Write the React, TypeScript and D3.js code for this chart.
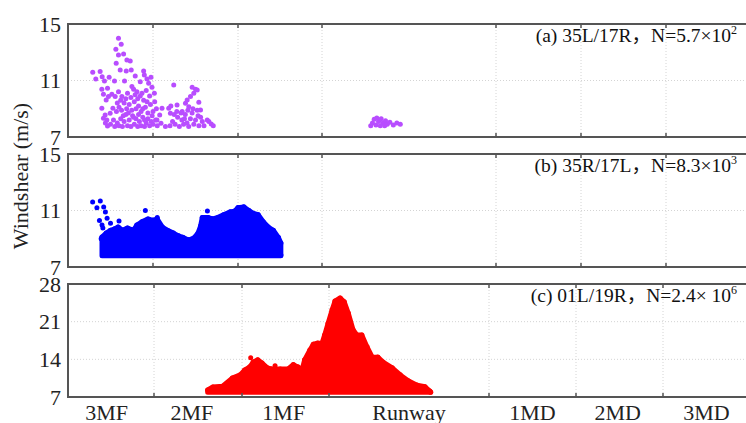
import React from "react";
import * as d3 from "d3";

const W = 746;
const H = 423;

// x domain = segment boundaries: 3MF | 2MF | 1MF | Runway | 1MD | 2MD | 3MD
const xBreaks = [0, 1, 2, 3, 5, 6, 7, 8];
const xLabels = ["3MF", "2MF", "1MF", "Runway", "1MD", "2MD", "3MD"];
const xLabelAt = [0.45, 1.43, 2.48, 4, 5.5, 6.48, 7.5];

const yTicksAB = [7, 11, 15];
const yTicksC = [7, 14, 21, 28];

// (a) 35L/17R scattered points [x, windshear]
const ptsA: [number, number][] = [
  [0.594, 13.99], [0.626, 13.56], [0.563, 13.21], [0.594, 12.81], [0.654, 12.88],
  [0.693, 12.45], [0.732, 12.38], [0.567, 12.22], [0.614, 11.75], [0.685, 11.67],
  [0.744, 11.75], [0.291, 11.58], [0.378, 11.63], [0.327, 11.11], [0.402, 11.27],
  [0.429, 10.97], [0.484, 11.23], [0.547, 10.97], [0.665, 10.97], [0.791, 11.32],
  [0.89, 11.67], [0.898, 11.39], [0.929, 11.11], [0.976, 11.23], [0.85, 10.92],
  [0.398, 10.38], [0.465, 10.45], [0.417, 10.02], [0.516, 10.02], [0.449, 9.62],
  [0.476, 9.86], [0.555, 9.86], [0.594, 10.21], [0.634, 9.86], [0.752, 10.57],
  [0.772, 10.38], [0.811, 10.21], [0.949, 10.8], [0.988, 10.52], [1.016, 10.09],
  [0.398, 9.03], [0.437, 8.56], [0.457, 8.21], [0.465, 7.78], [0.417, 8.33],
  [0.496, 8.68], [0.528, 9.03], [0.535, 8.21], [0.5, 7.9], [0.44, 8.0],
  [0.55, 7.75], [0.58, 8.0], [0.6, 7.8], [0.62, 8.3], [0.64, 7.75], [0.66, 8.1],
  [0.68, 8.6], [0.7, 7.8], [0.72, 8.2], [0.74, 7.75], [0.76, 8.5], [0.78, 7.9],
  [0.8, 8.3], [0.82, 7.75], [0.84, 8.1], [0.86, 7.8], [0.88, 8.4], [0.9, 7.75],
  [0.92, 8.0], [0.94, 8.3], [0.96, 7.8], [0.98, 8.1], [1.0, 7.9], [1.03, 8.2],
  [1.05, 7.8], [0.57, 8.8], [0.6, 9.1], [0.63, 8.9], [0.66, 9.4], [0.69, 9.0],
  [0.72, 9.3], [0.75, 8.9], [0.78, 9.5], [0.8, 9.0], [0.83, 9.2], [0.86, 8.8],
  [0.89, 9.6], [0.91, 9.1], [0.94, 8.7], [0.97, 9.3], [1.0, 8.8], [1.02, 9.5],
  [0.65, 8.5], [0.71, 8.7], [0.77, 8.4], [0.83, 8.6], [0.88, 9.0], [0.93, 9.5],
  [0.96, 9.9], [0.99, 8.5], [1.04, 9.0], [0.68, 9.7], [0.74, 9.8], [0.82, 9.7],
  [0.87, 10.1], [0.92, 10.3], [0.85, 9.9], [0.9, 8.2], [0.62, 9.6], [0.58, 9.4],
  [0.7, 10.1], [0.79, 10.0], [1.106, 9.03], [1.079, 8.56], [1.047, 8.21],
  [1.146, 7.74], [1.094, 7.97], [1.185, 9.03], [1.205, 8.68], [1.244, 10.68],
  [1.283, 9.27], [1.343, 8.8], [1.382, 9.39], [1.402, 9.62], [1.461, 10.52],
  [1.5, 10.38], [1.48, 10.09], [1.52, 10.33], [1.539, 9.46], [1.441, 9.86],
  [1.421, 9.15], [1.559, 8.92], [1.657, 8.09], [1.685, 7.92], [1.709, 7.8],
  [1.638, 8.2], [1.2, 7.8], [1.23, 8.1], [1.26, 7.9], [1.29, 8.4], [1.31, 7.75],
  [1.34, 8.2], [1.36, 7.9], [1.38, 8.6], [1.4, 8.0], [1.42, 7.75], [1.44, 8.3],
  [1.46, 8.7], [1.48, 7.9], [1.5, 8.2], [1.52, 8.9], [1.54, 7.8], [1.56, 8.4],
  [1.58, 8.1], [1.6, 7.8], [1.25, 8.6], [1.33, 8.7], [1.47, 9.0], [1.53, 8.5],
  [1.41, 8.9], [1.37, 8.3], [1.21, 9.2], [1.28, 8.8],
  [3.56, 7.8], [3.58, 8.0], [3.6, 8.25], [3.62, 7.85], [3.63, 8.35], [3.65, 8.1],
  [3.67, 7.8], [3.68, 8.3], [3.7, 8.0], [3.72, 7.8], [3.73, 8.15], [3.75, 7.9],
  [3.78, 8.05], [3.82, 7.85], [3.86, 8.0], [3.9, 7.9],
];

// (b) 35R/17L dense cloud upper envelope + isolated points
const envB: [number, number][] = [
  [0.4, 9.12], [0.45, 9.4], [0.5, 9.6], [0.55, 9.7], [0.59, 9.83], [0.64, 9.6],
  [0.7, 9.76], [0.77, 9.6], [0.81, 9.97], [0.87, 10.2], [0.94, 10.4], [1.0, 10.3],
  [1.05, 10.4], [1.11, 9.83], [1.17, 9.6], [1.24, 9.4], [1.3, 9.2], [1.35, 9.1],
  [1.42, 8.9], [1.48, 9.05], [1.53, 9.4], [1.56, 9.9], [1.58, 10.5], [1.65, 10.5],
  [1.7, 10.4], [1.76, 10.5], [1.83, 10.7], [1.91, 10.9], [1.96, 10.95], [2.0, 11.2],
  [2.07, 11.25], [2.13, 11.0], [2.18, 10.8], [2.24, 10.7], [2.3, 10.2], [2.36, 9.83],
  [2.42, 9.6], [2.48, 9.1], [2.51, 8.7], [2.51, 7.85],
];
const ptsB: [number, number][] = [
  [0.29, 11.6], [0.38, 11.67], [0.34, 11.2], [0.42, 11.25], [0.44, 10.9],
  [0.37, 10.3], [0.46, 10.45], [0.4, 9.97], [0.41, 9.76], [0.5, 10.1],
  [0.6, 10.25], [0.91, 11.0], [1.05, 10.5], [1.64, 10.97], [0.39, 9.0],
  [0.42, 8.7], [0.44, 8.4], [0.45, 8.1],
];
const baseB = 7.8;

// (c) 01L/19R dense cloud upper envelope + isolated points
const envC: [number, number][] = [
  [1.61, 8.3], [1.67, 8.86], [1.78, 9.0], [1.89, 10.5], [1.98, 11.1], [2.03, 12.0],
  [2.09, 12.6], [2.13, 13.5], [2.18, 13.9], [2.23, 13.3], [2.29, 12.4], [2.34, 12.2],
  [2.44, 12.2], [2.53, 12.2], [2.59, 13.0], [2.64, 12.6], [2.69, 12.0], [2.72, 13.9],
  [2.78, 15.7], [2.82, 16.8], [2.87, 17.0], [2.92, 17.0], [2.95, 18.5], [2.99, 20.7],
  [3.04, 23.2], [3.075, 24.8], [3.14, 25.4], [3.19, 24.7], [3.24, 22.6], [3.3, 19.5],
  [3.35, 18.5], [3.41, 18.5], [3.475, 16.3], [3.54, 14.4], [3.61, 14.4], [3.675, 13.5],
  [3.79, 12.4], [3.89, 11.1], [3.99, 10.0], [4.1, 9.2], [4.2, 8.9], [4.26, 8.1],
  [4.27, 7.9],
];
const ptsC: [number, number][] = [[2.1, 14.3], [2.38, 12.8]];
const baseC = 7.9;

const panels = [
  {
    id: "a", top: 24, bottom: 137, xr: [68, 153, 238, 322, 496, 581, 666, 751],
    ydom: [7, 15], yTicks: yTicksAB, color: "#b84dff",
    label: ["(a) 35L/17R", "N=5.7×10"], sup: "2",
    pts: ptsA, env: null as [number, number][] | null, base: 0,
  },
  {
    id: "b", top: 154, bottom: 267, xr: [68, 153, 238, 322, 496, 581, 666, 751],
    ydom: [7, 15], yTicks: yTicksAB, color: "#0000ff",
    label: ["(b) 35R/17L", "N=8.3×10"], sup: "3",
    pts: ptsB, env: envB, base: baseB,
  },
  {
    id: "c", top: 284, bottom: 397, xr: [68, 154, 242, 329, 489, 576, 663, 750],
    ydom: [7, 28], yTicks: yTicksC, color: "#ff0000",
    label: ["(c) 01L/19R", "N=2.4× 10"], sup: "6",
    pts: ptsC, env: envC, base: baseC,
  },
];

const font = "'Liberation Serif', 'Times New Roman', serif";
const frame = "#555";

const Panel = ({ p, showX }: { p: (typeof panels)[number]; showX: boolean }) => {
  const x = d3.scaleLinear().domain(xBreaks).range(p.xr);
  const y = d3.scaleLinear().domain(p.ydom).range([p.bottom, p.top]);
  const left = p.xr[0];
  const right = p.xr[p.xr.length - 1];
  const area = d3
    .area<[number, number]>()
    .x((d) => x(d[0]))
    .y0(y(p.base))
    .y1((d) => y(d[1]));
  const clipId = `clip-${p.id}`;
  return (
    <g>
      <defs>
        <clipPath id={clipId}>
          <rect x={left + 1} y={p.top + 1} width={right - left - 2} height={p.bottom - p.top - 2} />
        </clipPath>
      </defs>
      {/* grid */}
      {xBreaks.slice(1, -1).map((b) => (
        <line key={"gx" + b} x1={x(b)} x2={x(b)} y1={p.top} y2={p.bottom}
          stroke="#d4d4d4" strokeWidth={1} strokeDasharray="1,2" />
      ))}
      {p.yTicks.slice(1, -1).map((t) => (
        <line key={"gy" + t} x1={left} x2={right} y1={y(t)} y2={y(t)}
          stroke="#d4d4d4" strokeWidth={1} strokeDasharray="1,2" />
      ))}
      {/* data */}
      <g clipPath={`url(#${clipId})`}>
        {p.env && (
          <path d={area(p.env) || ""} fill={p.color} stroke={p.color}
            strokeWidth={5} strokeLinejoin="round" />
        )}
        {p.env && p.env.map((d, i) => (
          <circle key={"e" + i} cx={x(d[0])} cy={y(d[1])} r={2.6} fill={p.color} />
        ))}
        {p.pts.map((d, i) => (
          <circle key={"p" + i} cx={x(d[0])} cy={y(d[1])} r={2.5} fill={p.color} />
        ))}
      </g>
      {/* frame and ticks */}
      <rect x={left} y={p.top} width={right - left} height={p.bottom - p.top}
        fill="none" stroke={frame} strokeWidth={2} />
      {xBreaks.slice(1, -1).map((b) => (
        <g key={"t" + b} stroke={frame} strokeWidth={1.5}>
          <line x1={x(b)} x2={x(b)} y1={p.top} y2={p.top + 4} />
          <line x1={x(b)} x2={x(b)} y1={p.bottom} y2={p.bottom - 4} />
        </g>
      ))}
      {p.yTicks.map((t) => (
        <text key={"yl" + t} x={61} y={y(t)} dy="0.35em" textAnchor="end"
          fontSize={22} fill="#222">{t}</text>
      ))}
      <text x={737} y={p.top + 18} textAnchor="end" fontSize={19.5} fill="#111">
        {p.label[0]}
        <tspan fontFamily="'Noto Sans CJK SC'">，</tspan>
        {p.label[1]}
        <tspan dy={-8} fontSize={12}>{p.sup}</tspan>
      </text>
      {showX && xLabels.map((l, i) => (
        <text key={l} x={x(xLabelAt[i])} y={420} textAnchor="middle" fontSize={22} fill="#222">{l}</text>
      ))}
    </g>
  );
};

export default function App() {
  return (
    <svg width={W} height={H} style={{ position: "absolute", left: 0, top: 0, background: "#fff" }}
      fontFamily={font}>
      <rect width={W} height={H} fill="#fff" />
      {panels.map((p, i) => (
        <Panel key={p.id} p={p} showX={i === panels.length - 1} />
      ))}
      <text transform="translate(28,176) rotate(-90)" textAnchor="middle" fontSize={22} fill="#222">
        Windshear (m/s)
      </text>
    </svg>
  );
}
